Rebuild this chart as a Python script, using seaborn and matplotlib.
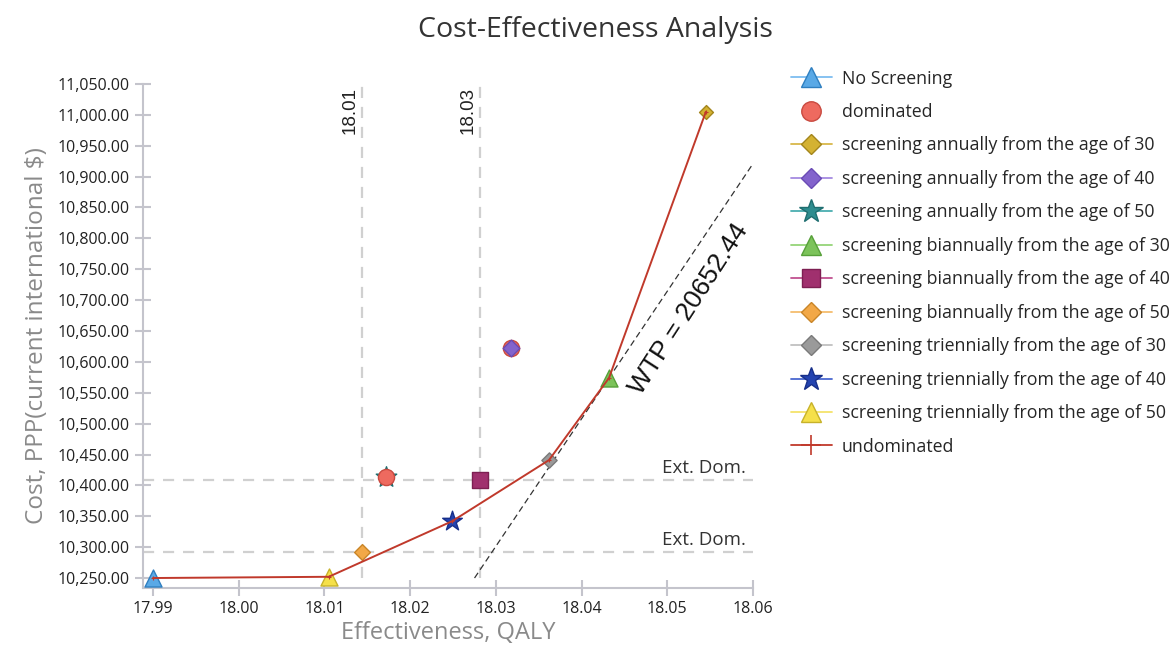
import numpy as np
import pandas as pd
import matplotlib
matplotlib.use("Agg")
import matplotlib.pyplot as plt
from matplotlib.lines import Line2D
from matplotlib.ticker import FuncFormatter
import seaborn as sns

# ---------------- data ----------------
strategies = [
    "No Screening",
    "screening annually from the age of 30",
    "screening annually from the age of 40",
    "screening annually from the age of 50",
    "screening biannually from the age of 30",
    "screening biannually from the age of 40",
    "screening biannually from the age of 50",
    "screening triennially from the age of 30",
    "screening triennially from the age of 40",
    "screening triennially from the age of 50",
]
effectiveness = [17.9900, 18.0545, 18.0318, 18.0172, 18.0432, 18.0282, 18.0144, 18.0362, 18.0249, 18.0105]
cost = [10250, 11005, 10622, 10413, 10574, 10409, 10292, 10441, 10342, 10252]
dominated = ["screening annually from the age of 40", "screening annually from the age of 50"]
ext_dominated = ["screening biannually from the age of 40", "screening biannually from the age of 50"]
frontier = [
    "No Screening",
    "screening triennially from the age of 50",
    "screening triennially from the age of 40",
    "screening triennially from the age of 30",
    "screening biannually from the age of 30",
    "screening annually from the age of 30",
]
wtp = 20652.44
wtp_anchor = "screening biannually from the age of 30"
x_ticks = [17.99, 18.00, 18.01, 18.02, 18.03, 18.04, 18.05, 18.06]
y_ticks = list(range(10250, 11051, 50))

df = pd.DataFrame({"strategy": strategies, "eff": effectiveness, "cost": cost}).set_index("strategy")

# ---------------- styles ----------------
styles = {
    "No Screening": dict(marker="^", face="#5aa9e6", edge="#2f7fc0", line="#7dbdf0", s=150),
    "screening annually from the age of 30": dict(marker="D", face="#d4b232", edge="#a3851c", line="#d8b84a", s=50),
    "screening annually from the age of 40": dict(marker="D", face="#8363cc", edge="#6a4bb5", line="#a58ae0", s=72),
    "screening annually from the age of 50": dict(marker="*", face="#2e8d8f", edge="#1f6e70", line="#4aaeb0", s=240),
    "screening biannually from the age of 30": dict(marker="^", face="#7cc35a", edge="#57a03a", line="#95d478", s=150),
    "screening biannually from the age of 40": dict(marker="s", face="#a0306e", edge="#7d1f52", line="#c05090", s=130),
    "screening biannually from the age of 50": dict(marker="D", face="#f2a847", edge="#c98528", line="#f5bd6e", s=65),
    "screening triennially from the age of 30": dict(marker="D", face="#9a9a9a", edge="#7a7a7a", line="#c0c0c0", s=60),
    "screening triennially from the age of 40": dict(marker="*", face="#2343b0", edge="#172f8a", line="#4a68d0", s=220),
    "screening triennially from the age of 50": dict(marker="^", face="#f5e04a", edge="#c7b22a", line="#f5e36b", s=150),
}
zorders = {s: 3 for s in strategies}
zorders["screening annually from the age of 40"] = 6

sns.set_theme(style="white")
plt.rcParams["font.family"] = ["Open Sans", "DejaVu Sans"]

fig = plt.figure(figsize=(11.74, 6.53), dpi=100)
ax = fig.add_axes([0.1218, 0.0995, 0.5196, 0.7719])

xmin, xmax = 17.98883, 18.06
ymin, ymax = 10233.8, 11050
ax.set_xlim(xmin, xmax)
ax.set_ylim(ymin, ymax)

# reference lines for extended dominance
for s in ext_dominated:
    e, c = df.loc[s, "eff"], df.loc[s, "cost"]
    ax.axhline(c, color="#d0d0d0", lw=1.6, ls=(0, (5, 4)), zorder=1)
    ax.plot([e, e], [10250, ymax], color="#d0d0d0", lw=1.6, ls=(0, (5, 4)), zorder=1)
    ax.text(e - 0.0004, ymax - 5, f"{e:.2f}", rotation=90, ha="right", va="top",
            fontsize=13.5, family="Liberation Sans", color="#222222", zorder=2)
    ax.text(xmax - 0.0008, c + 5, "Ext. Dom.", ha="right", va="bottom",
            fontsize=13.5, color="#333333")

# WTP line through the anchor strategy
ax_x = df.loc[wtp_anchor, "eff"]
ax_y = df.loc[wtp_anchor, "cost"]
x0 = ax_x - (ax_y - 10250) / wtp
wx = np.array([x0, xmax])
wy = ax_y + wtp * (wx - ax_x)
ax.plot(wx, wy, color="#333333", lw=0.9, ls=(0, (5, 3)), zorder=2)

# frontier (undominated)
fr = df.loc[frontier].reset_index()
sns.lineplot(data=fr, x="eff", y="cost", sort=False, color="#c0392b", lw=1.4, ax=ax,
             zorder=4, estimator=None)

# strategy points
for s in strategies:
    st = styles[s]
    sub = df.loc[[s]].reset_index()
    sns.scatterplot(data=sub, x="eff", y="cost", marker=st["marker"], s=st["s"], color=st["face"],
                    edgecolor=st["edge"], linewidth=1.0, ax=ax, zorder=zorders[s], legend=False)

# dominated markers
dom = df.loc[dominated].reset_index()
sns.scatterplot(data=dom, x="eff", y="cost", marker="o", s=135, color="#ee6a5f", edgecolor="#c94a40",
                linewidth=1.0, ax=ax, zorder=5, legend=False)

# small + markers on frontier
sns.scatterplot(data=fr, x="eff", y="cost", marker="+", s=8, color="#c0392b", linewidth=0.8,
                ax=ax, zorder=7, legend=False)

# WTP label
fig.canvas.draw()
p0 = ax.transData.transform((wx[0], wy[0]))
p1 = ax.transData.transform((wx[1], wy[1]))
ang = np.degrees(np.arctan2(p1[1] - p0[1], p1[0] - p0[0]))
tx = 18.0498
ty = ax_y + wtp * (tx - ax_x)
ax.annotate(f"WTP = {wtp:.2f}", (tx, ty), xytext=(17, -11), textcoords="offset points",
            rotation=ang + 1, rotation_mode="anchor", ha="center", va="center",
            fontsize=19, family="Liberation Sans", color="#111111", zorder=8)

# axes styling
ax.set_xticks(x_ticks)
ax.xaxis.set_major_formatter(FuncFormatter(lambda v, p: f"{v:.2f}"))
ax.set_yticks(y_ticks)
ax.yaxis.set_major_formatter(FuncFormatter(lambda v, p: f"{v:,.2f}"))
for side in ["top", "right"]:
    ax.spines[side].set_visible(False)
for side in ["left", "bottom"]:
    ax.spines[side].set_color("#c4c4cc")
    ax.spines[side].set_linewidth(1.5)
ax.tick_params(axis="both", which="major", direction="inout", length=12, width=1.5,
               color="#c4c4cc", labelsize=11.5, labelcolor="#222222", left=True, bottom=True)
ax.set_xlabel("Effectiveness, QALY", fontsize=17, color="#8a8a8a", labelpad=3)
ax.set_ylabel("Cost, PPP(current international $)", fontsize=17.5, color="#8a8a8a", labelpad=6)
fig.suptitle("Cost-Effectiveness Analysis", x=0.507, y=0.975, fontsize=20.5, color="#333333")

# legend
handles = []
labels = []
for s in strategies:
    st = styles[s]
    msize = np.sqrt(st["s"]) * 1.15
    if st["marker"] == "D":
        msize = 10.5
    handles.append(Line2D([0], [0], color=st["line"], lw=1.3, marker=st["marker"],
                          markerfacecolor=st["face"], markeredgecolor=st["edge"],
                          markersize=msize))
    labels.append(s)
handles.insert(1, Line2D([0], [0], color="none", marker="o", markerfacecolor="#ee6a5f",
                         markeredgecolor="#c94a40", markersize=14))
labels.insert(1, "dominated")
handles.append(Line2D([0], [0], color="#c0392b", lw=1.3, marker="+", markersize=15,
                      markeredgewidth=1.2))
labels.append("undominated")
fig.legend(handles, labels, loc="upper left", bbox_to_anchor=(0.66, 0.918), frameon=False,
           fontsize=12.8, handlelength=2.3, labelspacing=0.87, handletextpad=0.55)

fig.savefig("out.png", dpi=100)
